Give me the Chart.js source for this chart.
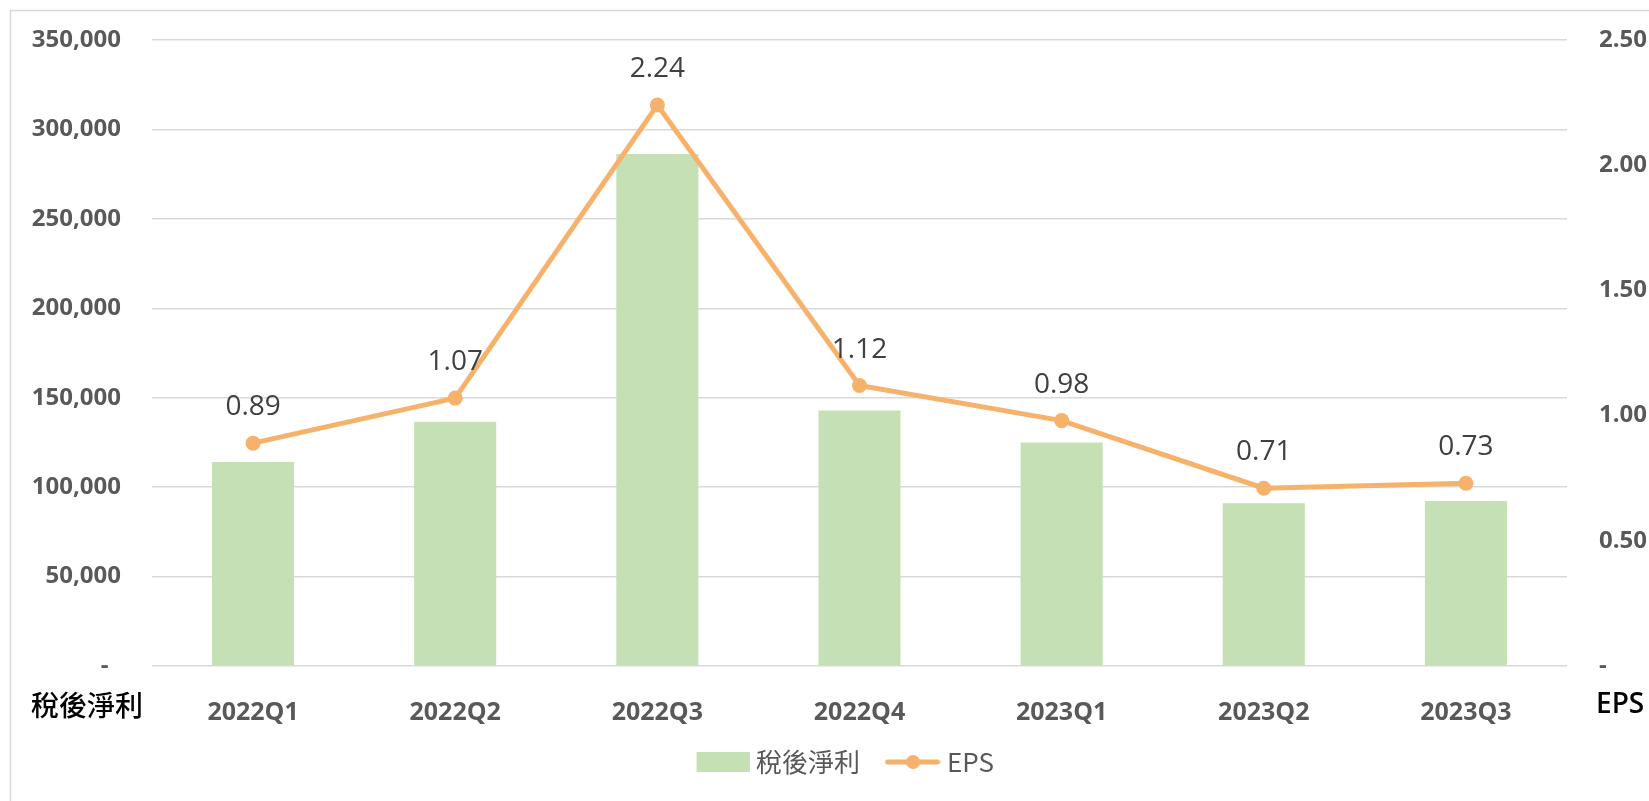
<!DOCTYPE html>
<html>
<head>
<meta charset="utf-8">
<script src="https://cdn.jsdelivr.net/npm/chart.js@4.4.0/dist/chart.umd.min.js"></script>
<style>
  html, body { margin: 0; padding: 0; background: #ffffff; }
  #wrap { width: 1649px; height: 801px; position: relative; }
</style>
</head>
<body>
<div id="wrap"><canvas id="c" width="1649" height="801"></canvas></div>
<script>
// ---- data ----
const categories = ['2022Q1', '2022Q2', '2022Q3', '2022Q4', '2023Q1', '2023Q2', '2023Q3'];
const netProfit = [114100, 136500, 286300, 142800, 124900, 91000, 92300];
const eps = [0.89, 1.07, 2.24, 1.12, 0.98, 0.71, 0.73];
const leftTickLabels = ['-  ', '50,000', '100,000', '150,000', '200,000', '250,000', '300,000', '350,000'];
const rightTickLabels = ['-', '0.50', '1.00', '1.50', '2.00', '2.50'];
const seriesNames = ['稅後淨利', 'EPS'];
const axisTitles = ['稅後淨利', 'EPS'];

const BAR_COLOR = '#C5E0B4';
const LINE_COLOR = '#F6B26B';
const TICK_COLOR = '#595959';
const GRID_COLOR = '#D9D9D9';
const LATIN = '"Open Sans", "Noto Sans CJK TC", sans-serif';
const CJK = '"Noto Sans CJK TC", "Open Sans", sans-serif';

// legend swatches (drawn right-aligned inside a wider canvas so they sit close to the text)
const barSwatch = document.createElement('canvas');
barSwatch.width = 67; barSwatch.height = 20;
(function(){ const g = barSwatch.getContext('2d'); g.fillStyle = BAR_COLOR; g.fillRect(14, 0, 53, 20); })();
const lineSwatch = document.createElement('canvas');
lineSwatch.width = 67; lineSwatch.height = 16;
(function(){
  const g = lineSwatch.getContext('2d');
  g.strokeStyle = LINE_COLOR; g.lineWidth = 5; g.lineCap = 'round';
  g.beginPath(); g.moveTo(14, 8); g.lineTo(64, 8); g.stroke();
  g.fillStyle = LINE_COLOR; g.beginPath(); g.arc(39.5, 8, 7, 0, Math.PI * 2); g.fill();
})();

const framePlugin = {
  id: 'frame',
  beforeDraw(chart) {
    const ctx = chart.ctx;
    ctx.save();
    ctx.fillStyle = '#ffffff';
    ctx.fillRect(0, 0, chart.width, chart.height);
    ctx.strokeStyle = GRID_COLOR;
    ctx.lineWidth = 1.5;
    ctx.strokeRect(10.5, 10.5, chart.width + 50, chart.height + 50);
    ctx.restore();
  }
};

const legendShift = {
  id: 'legendShift',
  afterLayout(chart) {
    if (chart.legend) { chart.legend.left += 17; chart.legend.right += 17; }
  }
};

const labelPlugin = {
  id: 'epsLabels',
  afterDatasetsDraw(chart) {
    const ctx = chart.ctx;
    const meta = chart.getDatasetMeta(1);
    ctx.save();
    ctx.font = '28px ' + LATIN;
    ctx.fillStyle = '#404040';
    ctx.textAlign = 'center';
    ctx.textBaseline = 'middle';
    meta.data.forEach((pt, i) => {
      ctx.fillText(eps[i].toFixed(2), pt.x, pt.y - 36);
    });
    // axis titles under the axes
    ctx.fillStyle = '#000000';
    ctx.textAlign = 'left';
    ctx.font = '500 28px ' + CJK;
    ctx.fillText(axisTitles[0], 31, 705);
    ctx.font = '600 28px ' + LATIN;
    ctx.fillText(axisTitles[1], 1596, 705);
    ctx.restore();
  }
};

function fixY(width) {
  return function(scale) {
    scale.width = width;
    scale.paddingTop = 0;
    scale.paddingBottom = 0;
  };
}

new Chart(document.getElementById('c'), {
  type: 'bar',
  data: {
    labels: categories,
    datasets: [
      {
        type: 'bar',
        label: seriesNames[0],
        data: netProfit,
        backgroundColor: BAR_COLOR,
        yAxisID: 'y',
        order: 1,
        categoryPercentage: 1.0,
        barPercentage: 0.406
      },
      {
        type: 'line',
        label: seriesNames[1],
        data: eps,
        borderColor: LINE_COLOR,
        backgroundColor: LINE_COLOR,
        borderWidth: 5,
        pointRadius: 7.5,
        pointHoverRadius: 7.5,
        pointBackgroundColor: LINE_COLOR,
        pointBorderWidth: 0,
        tension: 0,
        yAxisID: 'y1',
        order: 0
      }
    ]
  },
  options: {
    responsive: false,
    animation: false,
    layout: { padding: { top: 40, left: 0, right: 0, bottom: 16 } },
    plugins: {
      tooltip: { enabled: false },
      legend: {
        position: 'bottom',
        labels: {
          color: TICK_COLOR,
          font: { family: CJK, size: 26 },
          usePointStyle: true,
          pointStyleWidth: 54,
          padding: 20,
          generateLabels(chart) {
            return [
              { text: seriesNames[0], pointStyle: barSwatch, fillStyle: BAR_COLOR, strokeStyle: 'rgba(0,0,0,0)', lineWidth: 0, hidden: false, datasetIndex: 0, fontColor: TICK_COLOR },
              { text: seriesNames[1], pointStyle: lineSwatch, fillStyle: LINE_COLOR, strokeStyle: 'rgba(0,0,0,0)', lineWidth: 0, hidden: false, datasetIndex: 1, fontColor: TICK_COLOR }
            ];
          }
        }
      }
    },
    scales: {
      x: {
        grid: { display: false },
        border: { display: false },
        ticks: { color: TICK_COLOR, font: { family: LATIN, size: 25, weight: 'bold' }, padding: 24, maxRotation: 0 },
        afterFit(scale) { scale.height = 63; }
      },
      y: {
        position: 'left',
        min: 0, max: 350000,
        grid: { color: GRID_COLOR, lineWidth: 1.5, drawTicks: false },
        border: { display: false },
        ticks: {
          stepSize: 50000,
          color: TICK_COLOR,
          font: { family: LATIN, size: 24, weight: 'bold' },
          padding: 31,
          callback: (v, i) => leftTickLabels[i]
        },
        afterFit: fixY(152)
      },
      y1: {
        position: 'right',
        min: 0, max: 2.5,
        grid: { display: false, drawTicks: false },
        border: { display: false },
        ticks: {
          stepSize: 0.5,
          color: TICK_COLOR,
          font: { family: LATIN, size: 24, weight: 'bold' },
          padding: 32,
          callback: (v, i) => rightTickLabels[i]
        },
        afterFit: fixY(82)
      }
    }
  },
  plugins: [framePlugin, legendShift, labelPlugin]
});
</script>
</body>
</html>
